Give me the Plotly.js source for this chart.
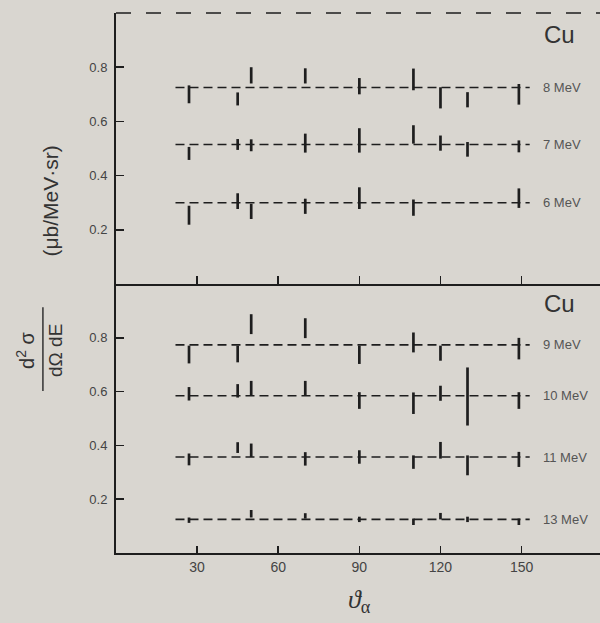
<!DOCTYPE html>
<html>
<head>
<meta charset="utf-8">
<script src="https://cdn.plot.ly/plotly-3.0.1.min.js"></script>
<style>html,body{margin:0;padding:0;background:#d9d6d0;}</style>
</head>
<body>
<div id="chart" style="width:600px;height:623px;"></div>
<script>
// Scattering angles (degrees)
const angles = [27, 45, 50, 70, 90, 110, 120, 130, 149];

// Top panel (Cu): 8, 7, 6 MeV
const e8_val = [0.700, 0.683, 0.770, 0.768, 0.730, 0.755, 0.687, 0.680, 0.700];
const e8_err = [0.033, 0.024, 0.030, 0.028, 0.030, 0.040, 0.039, 0.028, 0.038];
const e7_val = [0.482, 0.515, 0.512, 0.520, 0.530, 0.552, 0.520, 0.497, 0.508];
const e7_err = [0.024, 0.020, 0.022, 0.035, 0.045, 0.034, 0.028, 0.027, 0.022];
const e6_val = [0.254, 0.306, 0.268, 0.287, 0.317, 0.282, null, null, 0.317];
const e6_err = [0.035, 0.029, 0.028, 0.028, 0.040, 0.030, null, null, 0.036];

// Bottom panel (Cu): 9, 10, 11, 13 MeV
const e9_val  = [0.738, 0.740, 0.851, 0.836, 0.737, 0.783, 0.743, null, 0.760];
const e9_err  = [0.033, 0.031, 0.037, 0.037, 0.034, 0.037, 0.028, null, 0.040];
const e10_val = [0.592, 0.603, 0.612, 0.612, 0.567, 0.557, 0.594, 0.582, 0.567];
const e10_err = [0.025, 0.025, 0.028, 0.028, 0.031, 0.040, 0.028, 0.108, 0.031];
const e11_val = [0.348, 0.392, 0.382, 0.350, 0.357, 0.338, 0.382, 0.326, 0.348];
const e11_err = [0.022, 0.020, 0.025, 0.025, 0.025, 0.025, 0.031, 0.037, 0.028];
const e13_val = [0.122, null, 0.146, 0.138, 0.125, 0.116, 0.137, 0.125, 0.116];
const e13_err = [0.010, null, 0.014, 0.010, 0.010, 0.012, 0.012, 0.010, 0.012];

// Mean (isotropic) levels drawn as dashed lines
const topLabels = ["8 MeV", "7 MeV", "6 MeV"];
const topMeans  = [0.725, 0.515, 0.300];
const botLabels = ["9 MeV", "10 MeV", "11 MeV", "13 MeV"];
const botMeans  = [0.774, 0.585, 0.357, 0.125];
const meanRange = [22, 153];

const xTicks = [30, 60, 90, 120, 150];
const yTicks = [0.2, 0.4, 0.6, 0.8];
const yTickText = ["0.2", "0.4", "0.6", "0.8"];

const ink = "#1e1e1e";
const bg = "#d9d6d0";
const sans = "Liberation Sans, Arial, sans-serif";

const topSeries = [[e8_val, e8_err], [e7_val, e7_err], [e6_val, e6_err]];
const botSeries = [[e9_val, e9_err], [e10_val, e10_err], [e11_val, e11_err], [e13_val, e13_err]];

const traces = [];
function addPanel(series, means, xa, ya) {
  means.forEach(m => {
    traces.push({x: meanRange, y: [m, m], xaxis: xa, yaxis: ya, mode: "lines",
      line: {color: ink, width: 1.6, dash: "9px,5px"}, hoverinfo: "skip", showlegend: false});
  });
  series.forEach(([v, e]) => {
    traces.push({x: angles, y: v, xaxis: xa, yaxis: ya, mode: "markers",
      marker: {size: 1, color: ink, opacity: 0},
      error_y: {type: "data", array: e, visible: true, color: ink, thickness: 2.7, width: 0},
      showlegend: false});
  });
}
addPanel(topSeries, topMeans, "x2", "y2");
addPanel(botSeries, botMeans, "x", "y");

const axX = {
  range: [0, 179], tickvals: xTicks, ticks: "inside", ticklen: 7, tickwidth: 1.5, tickcolor: ink,
  showline: true, linecolor: ink, linewidth: 2, showgrid: false, zeroline: false,
  tickfont: {family: sans, size: 14, color: "#444"}
};
const axY = {
  range: [0, 1.0], tickvals: yTicks, ticktext: yTickText, ticks: "inside", ticklen: 8, tickwidth: 1.5,
  tickcolor: ink, showline: true, linecolor: ink, linewidth: 2, showgrid: false, zeroline: false,
  tickfont: {family: sans, size: 13, color: "#444"}, ticklabelstandoff: 4
};

const annotations = [];
topLabels.forEach((t, i) => annotations.push({x: 157, y: topMeans[i], xref: "x2", yref: "y2", text: t,
  showarrow: false, xanchor: "left", yanchor: "middle", font: {family: sans, size: 13, color: "#555"}}));
botLabels.forEach((t, i) => annotations.push({x: 157, y: botMeans[i], xref: "x", yref: "y", text: t,
  showarrow: false, xanchor: "left", yanchor: "middle", font: {family: sans, size: 13, color: "#555"}}));
annotations.push({x: 164, y: 0.92, xref: "x2", yref: "y2", text: "Cu", showarrow: false,
  xanchor: "center", yanchor: "middle", font: {family: sans, size: 24, color: "#333"}});
annotations.push({x: 164, y: 0.926, xref: "x", yref: "y", text: "Cu", showarrow: false,
  xanchor: "center", yanchor: "middle", font: {family: sans, size: 24, color: "#333"}});
// y-axis title: fraction + units
annotations.push({x: -0.186, y: 0.376, xref: "paper", yref: "paper", text: "d<sup>2</sup> σ", textangle: -90,
  xanchor: "center", yanchor: "middle",
  showarrow: false, font: {family: sans, size: 20, color: "#333"}});
annotations.push({x: -0.124, y: 0.376, xref: "paper", yref: "paper", text: "dΩ dE", textangle: -90,
  xanchor: "center", yanchor: "middle",
  showarrow: false, font: {family: sans, size: 19, color: "#333"}});
annotations.push({x: -0.135, y: 0.652, xref: "paper", yref: "paper", text: "(μb/MeV·sr)", textangle: -90,
  xanchor: "center", yanchor: "middle",
  showarrow: false, font: {family: sans, size: 21, color: "#333"}});
// x-axis title
annotations.push({x: 0.504, y: -0.088, xref: "paper", yref: "paper", text: "<i>ϑ</i><sub>α</sub>",
  xanchor: "center", yanchor: "middle",
  showarrow: false, font: {family: "Liberation Serif, serif", size: 26, color: "#333"}});

const layout = {
  width: 600, height: 623,
  margin: {l: 116, r: 0, t: 13, b: 70},
  paper_bgcolor: bg, plot_bgcolor: bg,
  showlegend: false,
  xaxis: Object.assign({}, axX, {anchor: "y", domain: [0, 1]}),
  xaxis2: Object.assign({}, axX, {anchor: "y2", domain: [0, 1], matches: "x", showticklabels: false, ticklen: 8}),
  yaxis: Object.assign({}, axY, {anchor: "x", domain: [0, 0.498]}),
  yaxis2: Object.assign({}, axY, {anchor: "x2", domain: [0.498, 1]}),
  annotations: annotations,
  shapes: [
    {type: "line", xref: "paper", yref: "paper", x0: 0, x1: 1, y0: 1, y1: 1,
     line: {color: ink, width: 1.5, dash: "longdash"}},
    {type: "line", xref: "paper", yref: "paper", x0: -0.151, x1: -0.151, y0: 0.300, y1: 0.455,
     line: {color: "#333", width: 1.5}}
  ]
};

Plotly.newPlot("chart", traces, layout, {staticPlot: true, displayModeBar: false});
</script>
</body>
</html>
